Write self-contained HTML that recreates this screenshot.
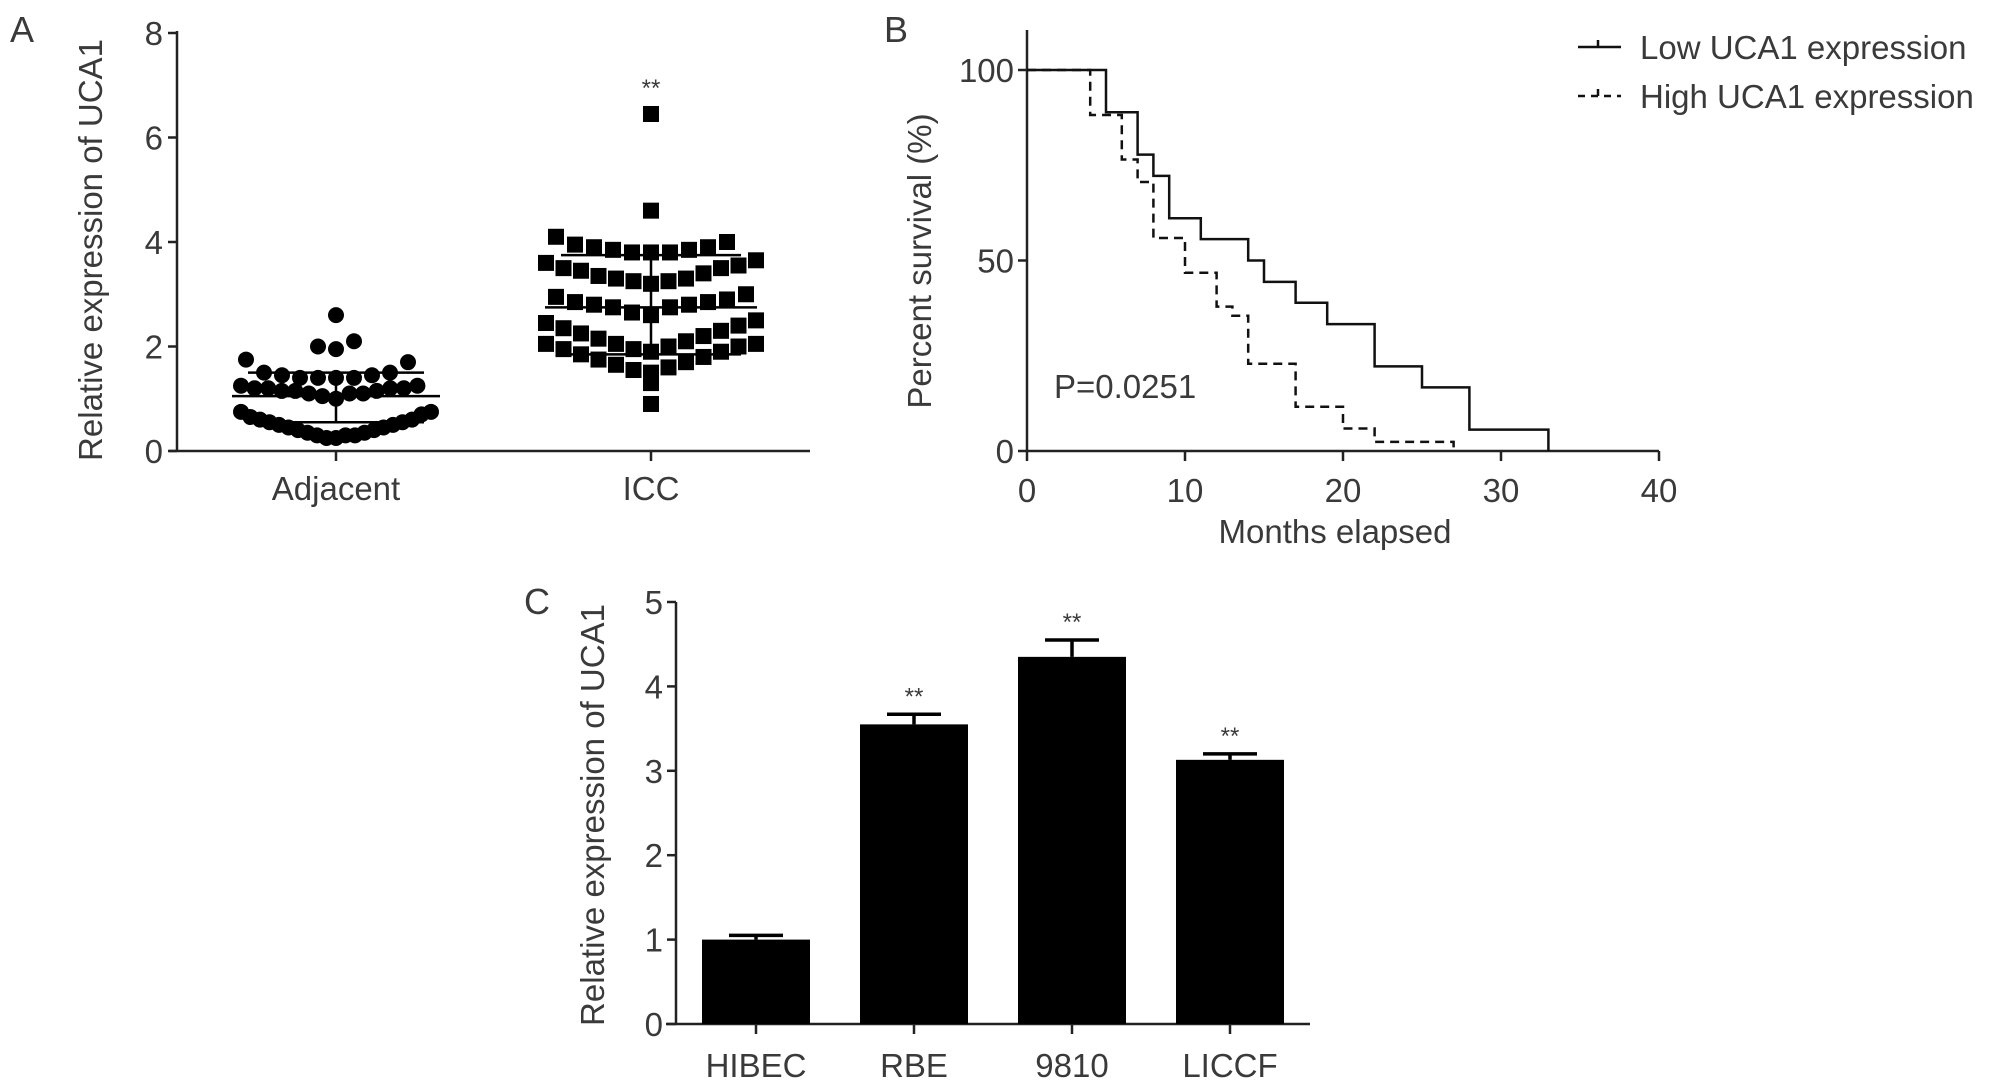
<!DOCTYPE html>
<html><head><meta charset="utf-8"><style>
html,body{margin:0;padding:0;background:#fff}
svg{display:block}
text{font-family:"Liberation Sans",sans-serif;fill:#3a3a3a}
</style></head><body>
<svg id="fig" width="2008" height="1089" viewBox="0 0 2008 1089" xmlns="http://www.w3.org/2000/svg">
<g id="pa"></g>
<g id="pb"></g>
<g id="pc"></g>
</svg>
<script>
// ---- Panel A data ----
const aTicks=[0,2,4,6,8];
const aCategories=["Adjacent","ICC"];
const adjRows=[[2.6],[1.95,2.0,2.1],[1.4,1.4,1.4,1.4,1.45,1.45,1.5,1.5,1.7,1.75],[1.0,1.05,1.1,1.1,1.1,1.15,1.15,1.15,1.2,1.2,1.2,1.2,1.25,1.25],[0.25,0.25,0.3,0.3,0.3,0.35,0.35,0.4,0.4,0.45,0.45,0.5,0.5,0.55,0.55,0.6,0.6,0.65,0.7,0.75,0.75]];
const iccRows=[[6.45],[4.6],[3.8,3.8,3.8,3.85,3.85,3.9,3.9,3.95,4.0,4.1],[3.2,3.25,3.25,3.3,3.3,3.35,3.4,3.45,3.5,3.5,3.55,3.6,3.65],[2.6,2.65,2.75,2.75,2.8,2.8,2.85,2.85,2.9,2.95,3.0],[1.9,1.95,2.0,2.05,2.1,2.15,2.2,2.25,2.3,2.35,2.4,2.45,2.5],[1.5,1.55,1.6,1.65,1.7,1.75,1.8,1.85,1.9,1.95,2.0,2.05,2.05],[1.3],[0.9]];
const adjMean=1.05, adjSdHi=1.5, adjSdLo=0.55;
const iccMean=2.75, iccSdHi=3.75, iccSdLo=1.85;
// ---- Panel B data ----
const bXTicks=[0,10,20,30,40];
const bYTicks=[0,50,100];
const lowT=[0,5,7,8,9,11,14,15,17,19,22,25,28,33];
const lowS=[100,88.9,77.8,72.2,61.1,55.6,50,44.4,38.9,33.3,22.2,16.7,5.6,0];
const highT=[0,4,6,7,8,10,12,13,14,17,20,22,27];
const highS=[100,88.2,76.5,70.6,55.9,46.8,37.9,35.5,22.9,11.6,5.9,2.4,0];
// ---- Panel C data ----
const cCategories=["HIBEC","RBE","9810","LICCF"];
const cValues=[1.0,3.55,4.35,3.13];
const cErrors=[0.05,0.12,0.2,0.07];
const cStars=["","**","**","**"];
const cTicks=[0,1,2,3,4,5];

const NS="http://www.w3.org/2000/svg";
const FS=33;
function mk(parent,tag,attrs,txt){const e=document.createElementNS(NS,tag);for(const k in attrs)e.setAttribute(k,attrs[k]);if(txt!==undefined)e.textContent=txt;parent.appendChild(e);return e;}

// ===== Panel A =====
(function(){
const g=document.getElementById('pa');
const X0=177,X1=810,Y0=451,Y8=33;
const y=v=>Y0-(Y0-Y8)*v/8;
const cx=[336,651];
let e=mk(g,'text',{x:10,y:42,'font-size':36},'A');


e=mk(g,'line',{x1:X0,y1:Y8-2,x2:X0,y2:Y0,stroke:'#222','stroke-width':2.5});


e=mk(g,'line',{x1:X0-8,y1:Y0,x2:X1,y2:Y0,stroke:'#222','stroke-width':2.5});


aTicks.forEach(t=>{
 let l=mk(g,'line',{x1:X0-9,y1:y(t),x2:X0,y2:y(t),stroke:'#222','stroke-width':2.5});
 
 
 let tx=mk(g,'text',{x:X0-14,y:y(t)+12,'font-size':FS,'text-anchor':'end'},t);
 
 
});
aCategories.forEach((c,i)=>{
 let l=mk(g,'line',{x1:cx[i],y1:Y0,x2:cx[i],y2:Y0+10,stroke:'#222','stroke-width':2.5});
 
 
 let tx=mk(g,'text',{x:cx[i],y:500,'font-size':FS,'text-anchor':'middle'},c);
 
 
});
e=mk(g,'text',{x:0,y:0,'font-size':FS,'text-anchor':'middle',transform:'translate(102,250) rotate(-90)'},'Relative expression of UCA1');


function swarm(rows,ci,shape,spacing,maxW){
 rows.forEach(row=>{
  const s=row.slice().sort((a,b)=>a-b);
  const sp=s.length>1?Math.min(spacing,maxW/(2*Math.ceil((s.length-1)/2))):spacing;
  s.forEach((v,i)=>{
   const k=Math.ceil(i/2)*(i%2?-1:1);
   const px=cx[ci]+k*sp, py=y(v);
   let m;
   if(shape==='c') m=mk(g,'circle',{cx:px,cy:py,r:8,fill:'#000'});
   else m=mk(g,'rect',{x:px-8,y:py-8,width:16,height:16,fill:'#000'});
   
   
  });
 });
}
swarm(adjRows,0,'c',18,190);
swarm(iccRows,1,'s',19,210);
function stats(ci,mean,hi,lo,hw,ew){
 let m=mk(g,'line',{x1:cx[ci]-hw,y1:y(mean),x2:cx[ci]+hw,y2:y(mean),stroke:'#000','stroke-width':2.5});
 
 
 let v=mk(g,'line',{x1:cx[ci],y1:y(hi),x2:cx[ci],y2:y(lo),stroke:'#000','stroke-width':2.5});
 
 
 [hi,lo].forEach(t=>{let c=mk(g,'line',{x1:cx[ci]-ew,y1:y(t),x2:cx[ci]+ew,y2:y(t),stroke:'#000','stroke-width':2.5});
 
 });
}
stats(0,adjMean,adjSdHi,adjSdLo,104,88);
stats(1,iccMean,iccSdHi,iccSdLo,106,90);
e=mk(g,'text',{x:cx[1],y:96,'font-size':24,'text-anchor':'middle'},'**');


})();

// ===== Panel B =====
(function(){
const g=document.getElementById('pb');
const X0=1027,X40=1659,Y0=451,Y100=70;
const x=t=>X0+(X40-X0)*t/40, y=s=>Y0-(Y0-Y100)*s/100;
let e=mk(g,'text',{x:884,y:42,'font-size':36},'B');


e=mk(g,'line',{x1:X0,y1:30,x2:X0,y2:Y0,stroke:'#222','stroke-width':2.5});


e=mk(g,'line',{x1:X0,y1:Y0,x2:X40,y2:Y0,stroke:'#222','stroke-width':2.5});


bYTicks.forEach(t=>{
 let l=mk(g,'line',{x1:X0-9,y1:y(t),x2:X0,y2:y(t),stroke:'#222','stroke-width':2.5});
 
 
 let tx=mk(g,'text',{x:X0-13,y:y(t)+12,'font-size':FS,'text-anchor':'end'},t);
 
 
});
bXTicks.forEach(t=>{
 let l=mk(g,'line',{x1:x(t),y1:Y0,x2:x(t),y2:Y0+10,stroke:'#222','stroke-width':2.5});
 
 
 let tx=mk(g,'text',{x:x(t),y:502,'font-size':FS,'text-anchor':'middle'},t);
 
 
});
e=mk(g,'text',{x:1335,y:543,'font-size':FS,'text-anchor':'middle'},'Months elapsed');


e=mk(g,'text',{x:0,y:0,'font-size':FS,'text-anchor':'middle',transform:'translate(931,261) rotate(-90)'},'Percent survival (%)');


e=mk(g,'text',{x:1054,y:398,'font-size':FS},'P=0.0251');


function steps(T,S){let d='M'+x(T[0])+','+y(S[0]);for(let i=1;i<T.length;i++){d+=' H'+x(T[i])+' V'+y(S[i]);}return d;}
e=mk(g,'path',{d:steps(lowT,lowS),fill:'none',stroke:'#111','stroke-width':2.5});


e=mk(g,'path',{d:steps(highT,highS),fill:'none',stroke:'#111','stroke-width':2.5,'stroke-dasharray':'9,6'});


e=mk(g,'g',{});


let l1=mk(e,'path',{d:'M1578,47 H1621 M1598,40 V47',stroke:'#111','stroke-width':2.5,fill:'none'});


let t1=mk(e,'text',{x:1640,y:59,'font-size':FS},'Low UCA1 expression');


let l2=mk(e,'path',{d:'M1578,96 H1621 M1598,89 V96',stroke:'#111','stroke-width':2.5,fill:'none','stroke-dasharray':'7,6'});


let t2=mk(e,'text',{x:1640,y:108,'font-size':FS},'High UCA1 expression');


})();

// ===== Panel C =====
(function(){
const g=document.getElementById('pc');
const X0=676,X1=1310,Y0=1024,Y5=602;
const y=v=>Y0-(Y0-Y5)*v/5;
const bx=i=>756+i*158;
const bw=108;
let e=mk(g,'text',{x:524,y:614,'font-size':36},'C');


e=mk(g,'line',{x1:X0,y1:Y5,x2:X0,y2:Y0,stroke:'#222','stroke-width':2.5});


e=mk(g,'line',{x1:X0-10,y1:Y0,x2:X1,y2:Y0,stroke:'#222','stroke-width':2.5});


cTicks.forEach(t=>{
 let l=mk(g,'line',{x1:X0-9,y1:y(t),x2:X0,y2:y(t),stroke:'#222','stroke-width':2.5});
 
 
 let tx=mk(g,'text',{x:X0-13,y:y(t)+12,'font-size':FS,'text-anchor':'end'},t);
 
 
});
e=mk(g,'text',{x:0,y:0,'font-size':FS,'text-anchor':'middle',transform:'translate(604,815) rotate(-90)'},'Relative expression of UCA1');


cCategories.forEach((c,i)=>{
 let l=mk(g,'line',{x1:bx(i),y1:Y0,x2:bx(i),y2:Y0+10,stroke:'#222','stroke-width':2.5});
 
 
 let tx=mk(g,'text',{x:bx(i),y:1077,'font-size':FS,'text-anchor':'middle'},c);
 
 
 let eb=mk(g,'path',{d:'M'+bx(i)+','+y(cValues[i])+' V'+y(cValues[i]+cErrors[i])+' M'+(bx(i)-27)+','+y(cValues[i]+cErrors[i])+' H'+(bx(i)+27),stroke:'#000','stroke-width':3.5,fill:'none'});
 
 
 let r=mk(g,'rect',{x:bx(i)-bw/2,y:y(cValues[i]),width:bw,height:Y0-y(cValues[i]),fill:'#000'});
 
 
 if(cStars[i]){let s=mk(g,'text',{x:bx(i),y:y(cValues[i]+cErrors[i])-10,'font-size':24,'text-anchor':'middle'},cStars[i]);
 
 }
});
})();
</script>
</body></html>
